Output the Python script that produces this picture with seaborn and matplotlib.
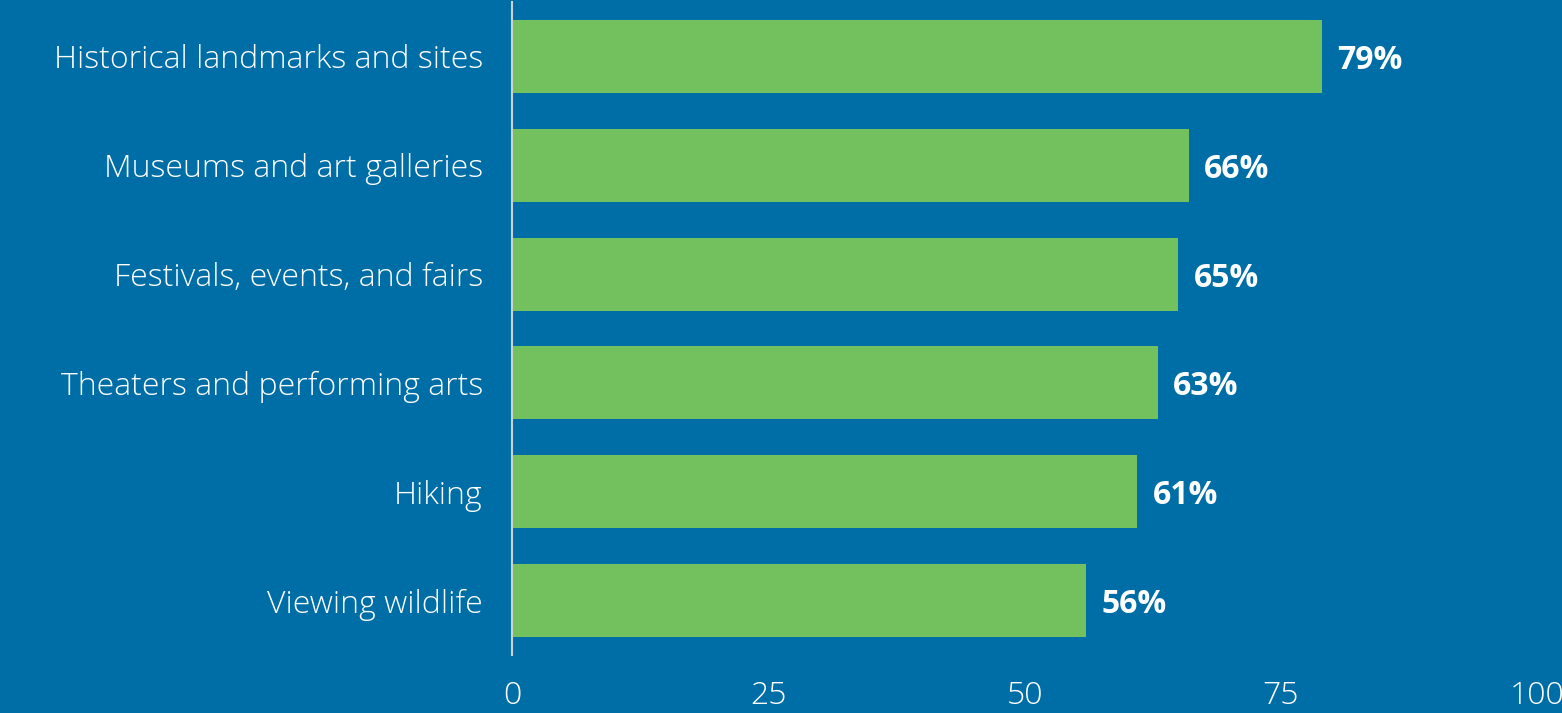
import matplotlib
matplotlib.use("Agg")
import matplotlib.pyplot as plt
import seaborn as sns
import pandas as pd

activities = [
    "Historical landmarks and sites",
    "Museums and art galleries",
    "Festivals, events, and fairs",
    "Theaters and performing arts",
    "Hiking",
    "Viewing wildlife",
]
shares = [79, 66, 65, 63, 61, 56]
x_ticks = [0, 25, 50, 75, 100]

BG = "#006ea6"
BAR = "#72c15e"

sns.set_theme(style="white")
plt.rcParams["font.family"] = ["Open Sans", "DejaVu Sans"]

df = pd.DataFrame({"activity": activities, "share": shares})

fig = plt.figure(figsize=(15.62, 7.13), dpi=100, facecolor=BG)
ax = fig.add_axes([0.3278, 0.0813, 0.6564, 0.9159])
ax.set_facecolor(BG)

sns.barplot(data=df, x="share", y="activity", color=BAR, width=0.67,
            saturation=1, ax=ax, edgecolor="none")

ax.set_xlim(0, 100)
ax.set_xticks(x_ticks)
ax.set_xticklabels([str(t) for t in x_ticks])
ax.set_xlabel("")
ax.set_ylabel("")

for s in ["top", "right", "bottom"]:
    ax.spines[s].set_visible(False)
ax.spines["left"].set_color("#d0d0d0")
ax.spines["left"].set_linewidth(1.5)

ax.tick_params(axis="x", length=0, pad=18, labelsize=23, labelcolor="white")
ax.tick_params(axis="y", length=0, pad=21, labelsize=23, labelcolor="white")
for lab in ax.get_xticklabels() + ax.get_yticklabels():
    lab.set_fontweight("light")

for i, v in enumerate(shares):
    ax.text(v + 1.5, i, f"{v}%", va="center_baseline", ha="left", color="white",
            fontsize=23, fontweight="bold")

fig.savefig("out.png", dpi=100, facecolor=BG)
